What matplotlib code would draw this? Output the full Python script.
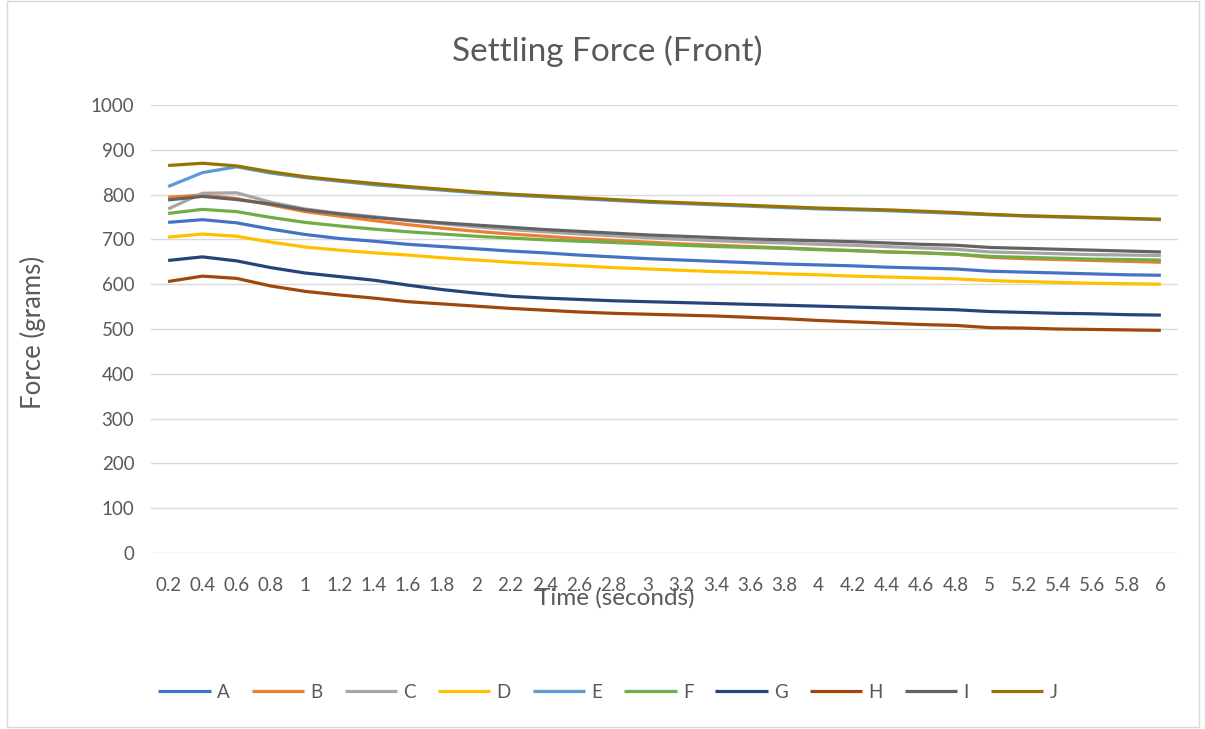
import matplotlib
matplotlib.use("Agg")
import matplotlib.pyplot as plt
from matplotlib.patches import Rectangle

# Time axis (seconds) as category labels
time_labels = ["0.2", "0.4", "0.6", "0.8", "1", "1.2", "1.4", "1.6", "1.8", "2",
               "2.2", "2.4", "2.6", "2.8", "3", "3.2", "3.4", "3.6", "3.8", "4",
               "4.2", "4.4", "4.6", "4.8", "5", "5.2", "5.4", "5.6", "5.8", "6"]

# Settling force (grams) per sample
A = [738, 744, 737, 723, 711, 702, 696, 689, 684, 679, 674, 670, 665, 661, 657,
     654, 651, 648, 645, 643, 641, 638, 636, 634, 629, 627, 625, 623, 621, 620]
B = [794, 799, 791, 777, 762, 752, 742, 733, 725, 718, 712, 707, 702, 698, 694,
     690, 687, 684, 681, 678, 675, 672, 670, 667, 660, 657, 655, 653, 651, 649]
C = [768, 803, 804, 783, 768, 758, 751, 742, 735, 728, 722, 717, 712, 708, 704,
     700, 697, 694, 692, 689, 687, 684, 681, 678, 672, 670, 668, 666, 665, 664]
D = [705, 712, 707, 694, 683, 676, 670, 665, 659, 654, 649, 645, 641, 637, 634,
     631, 628, 626, 623, 621, 618, 616, 614, 612, 608, 606, 604, 602, 601, 600]
E = [818, 849, 862, 848, 838, 830, 822, 816, 810, 804, 799, 795, 791, 787, 783,
     780, 777, 774, 771, 768, 766, 764, 761, 758, 755, 752, 750, 748, 746, 744]
F = [758, 767, 762, 749, 738, 730, 723, 717, 712, 707, 703, 699, 696, 693, 690,
     687, 684, 682, 680, 677, 675, 672, 670, 667, 662, 660, 658, 656, 655, 654]
G = [653, 661, 652, 637, 625, 617, 609, 598, 588, 580, 573, 569, 566, 563, 561,
     559, 557, 555, 553, 551, 549, 547, 545, 543, 539, 537, 535, 534, 532, 531]
H = [606, 618, 613, 596, 584, 576, 569, 561, 556, 551, 546, 542, 538, 535, 533,
     531, 529, 526, 523, 519, 516, 513, 510, 508, 503, 502, 500, 499, 498, 497]
I = [788, 796, 789, 779, 766, 757, 749, 743, 737, 732, 727, 722, 718, 714, 710,
     707, 704, 701, 699, 697, 695, 692, 689, 687, 682, 680, 678, 676, 674, 672]
J = [865, 870, 864, 851, 840, 832, 825, 818, 812, 806, 801, 797, 793, 789, 785,
     782, 779, 776, 773, 770, 768, 766, 763, 760, 756, 753, 751, 749, 747, 745]

series_names = ["A", "B", "C", "D", "E", "F", "G", "H", "I", "J"]
series_values = [A, B, C, D, E, F, G, H, I, J]
series_colors = ["#4472C4", "#ED7D31", "#A5A5A5", "#FFC000", "#5B9BD5",
                 "#70AD47", "#264478", "#9E480E", "#636363", "#997300"]

y_ticks = list(range(0, 1001, 100))

plt.rcParams["font.family"] = ["Lato", "DejaVu Sans"]
text_color = "#595959"
grid_color = "#D9D9D9"

fig = plt.figure(figsize=(12.05, 7.29), dpi=100)
fig.patch.set_facecolor("white")

# chart border
fig.patches.append(Rectangle((7 / 1205, 2 / 729), 1192 / 1205, 726 / 729,
                             transform=fig.transFigure, fill=False,
                             edgecolor=grid_color, linewidth=1.0))

ax = fig.add_axes([151 / 1205, 176 / 729, 1027 / 1205, 448 / 729])
x = list(range(len(time_labels)))
for name, vals, col in zip(series_names, series_values, series_colors):
    ax.plot(x, vals, color=col, linewidth=2.3, label=name,
            solid_joinstyle="round", solid_capstyle="butt")

ax.set_xlim(-0.5, len(time_labels) - 0.5)
ax.set_ylim(0, 1000)
ax.set_yticks(y_ticks)
ax.set_yticklabels([str(v) for v in y_ticks])
ax.set_xticks(x)
ax.set_xticklabels(time_labels)
ax.yaxis.grid(True, color=grid_color, linewidth=1.0)
ax.set_axisbelow(True)
for s in ax.spines.values():
    s.set_visible(False)
ax.tick_params(axis="both", length=0, labelsize=13.5, labelcolor=text_color)
ax.tick_params(axis="x", pad=17)
ax.tick_params(axis="y", pad=12)

fig.text(607 / 1205, 1 - 51 / 729, "Settling Force (Front)", ha="center",
         va="center", fontsize=24, color=text_color)
fig.text(615 / 1205, 1 - 598 / 729, "Time (seconds)", ha="center", va="center",
         fontsize=17.5, color=text_color)
fig.text(33 / 1205, 1 - 332 / 729, "Force (grams)", ha="center", va="center",
         rotation=90, fontsize=18.5, color=text_color)

leg = fig.legend(loc="center", bbox_to_anchor=(608 / 1205, 1 - 692 / 729),
                 ncol=10, frameon=False, fontsize=13.5, handlelength=2.8,
                 handletextpad=0.35, columnspacing=1.15)
for t in leg.get_texts():
    t.set_color(text_color)

fig.savefig("out.png", dpi=100, facecolor="white")
